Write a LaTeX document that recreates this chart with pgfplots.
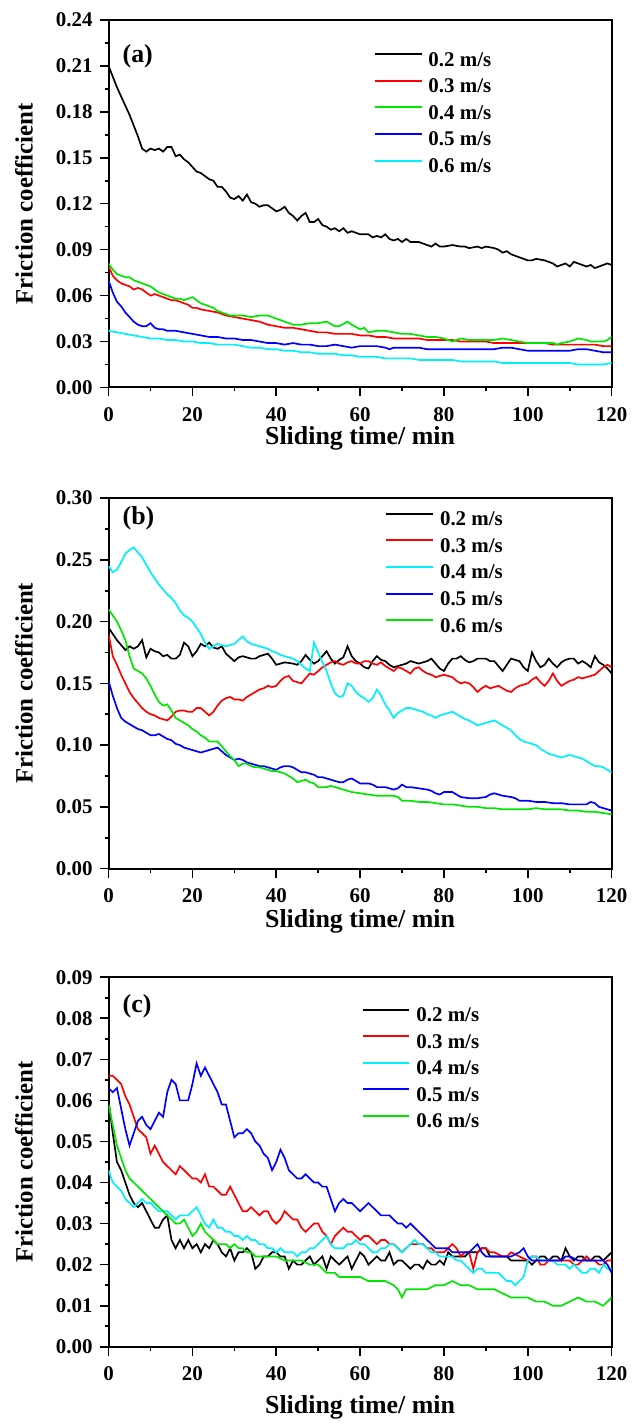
\documentclass[border=0pt]{standalone}
\usepackage{fontspec}
\setmainfont{Liberation Serif}
\usepackage{pgfplots}
\pgfplotsset{compat=1.18}

\definecolor{cgreen}{RGB}{0,230,0}
\definecolor{ccyan}{RGB}{0,240,255}

\pgfplotsset{
  legend image code/.code={\draw[#1, line width=1pt] (0pt,3.5pt) -- (23.5pt,3.5pt);},
  fric/.style={
    scale only axis,
    width=252.5pt,
    xmin=0, xmax=120,
    xtick={0,20,...,120},
    minor x tick num=1,
    minor y tick num=1,
    tick align=outside,
    tick pos=left,
    major tick length=4.5pt,
    minor tick length=2pt,
    axis line style={line width=1pt},
    every tick/.style={black, line width=0.8pt},
    scaled y ticks=false,
    /pgf/number format/assume math mode=true,
    tick label style={font=\bfseries\fontsize{10.5}{12}\selectfont},
    yticklabel style={/pgf/number format/fixed, /pgf/number format/fixed zerofill, /pgf/number format/precision=2},
    xticklabel style={yshift=-2pt},
    xlabel={Sliding time/ min},
    ylabel={Friction coefficient},
    xlabel style={font=\bfseries\fontsize{13}{15}\selectfont, at={(axis description cs:0.5,0)}, anchor=center},
    ylabel style={font=\bfseries\fontsize{12.5}{14}\selectfont, at={(axis description cs:-0.168,0.5)}, anchor=center},
    legend cell align=left,
    legend style={draw=none, fill=none, inner sep=0pt, outer sep=0pt, anchor=north west,
      font=\bfseries\fontsize{10.5}{12}\selectfont, row sep=4.35pt, column sep=3pt,
      nodes={inner sep=0pt, text height=7pt, text depth=2pt}},
    every axis plot/.append style={line width=0.85pt},
  }
}

\begin{document}
\begin{tikzpicture}
\path (0pt,0pt) rectangle (316.5pt,-713pt);

% ---------------- (a) ----------------
\begin{axis}[fric,
  at={(54.5pt,-10pt)}, anchor=north west,
  height=184.5pt,
  ymin=0, ymax=0.24, ytick={0,0.03,...,0.24},
  xlabel style={yshift=-25.5pt},
  legend style={at={(0.527,0.912)}},
]
\addplot[black] coordinates {
(0,0.210) (1,0.203) (2,0.196) (3,0.190) (4,0.184) (5,0.178) (6,0.171) (7,0.164) (8,0.156)
(9,0.154) (10,0.156) (11,0.155) (12,0.156) (13,0.154) (14,0.157) (15,0.157) (16,0.151)
(17,0.152) (18,0.149) (19,0.147) (20,0.144) (21,0.141) (22,0.140) (23,0.138) (24,0.136)
(25,0.135) (26,0.131) (27,0.131) (28,0.128) (29,0.124) (30,0.123) (31,0.125) (32,0.122)
(33,0.126) (34,0.121) (35,0.120) (36,0.118) (37,0.119) (38,0.119) (39,0.117) (40,0.115)
(41,0.116) (42,0.118) (43,0.114) (44,0.112) (45,0.109) (46,0.112) (47,0.114) (48,0.108)
(49,0.108) (50,0.110) (51,0.106) (52,0.105) (53,0.103) (54,0.104) (55,0.102) (56,0.104)
(57,0.101) (58,0.102) (59,0.101) (60,0.100) (62,0.100) (63,0.098) (64,0.099) (65,0.098)
(66,0.100) (67,0.097) (68,0.096) (69,0.097) (70,0.095) (71,0.097) (72,0.095) (74,0.095)
(75,0.094) (76,0.093) (77,0.092) (78,0.094) (79,0.092) (80,0.092) (82,0.093) (84,0.092)
(85,0.092) (86,0.091) (88,0.092) (89,0.091) (90,0.092) (92,0.091) (93,0.090) (94,0.088)
(95,0.089) (96,0.087) (97,0.086) (98,0.085) (99,0.084) (100,0.083) (101,0.083) (102,0.084)
(104,0.083) (105,0.082) (106,0.081) (107,0.079) (108,0.080) (109,0.081) (110,0.079)
(111,0.082) (112,0.081) (113,0.080) (114,0.079) (115,0.080) (116,0.078) (117,0.079)
(118,0.080) (119,0.081) (120,0.080)
};
\addplot[red] coordinates {
(0,0.079) (1,0.073) (2,0.070) (3,0.068) (4,0.067) (5,0.066) (6,0.064) (7,0.065) (8,0.064)
(9,0.062) (10,0.060) (11,0.061) (12,0.060) (13,0.059) (14,0.058) (15,0.057) (16,0.057)
(17,0.056) (18,0.055) (19,0.054) (20,0.052) (21,0.052) (22,0.051) (24,0.050) (26,0.049)
(28,0.047) (30,0.046) (32,0.045) (34,0.044) (36,0.043) (38,0.041) (40,0.040) (42,0.039)
(44,0.039) (46,0.038) (48,0.037) (50,0.036) (52,0.036) (54,0.035) (56,0.035) (58,0.035)
(60,0.034) (62,0.034) (64,0.033) (66,0.033) (68,0.032) (70,0.032) (72,0.032) (74,0.032)
(76,0.031) (78,0.031) (80,0.031) (82,0.031) (84,0.030) (86,0.030) (88,0.030) (90,0.030)
(92,0.029) (94,0.029) (96,0.029) (98,0.029) (100,0.029) (102,0.029) (104,0.029)
(106,0.028) (108,0.028) (110,0.028) (112,0.028) (114,0.028) (116,0.028) (118,0.027) (120,0.027)
};
\addplot[cgreen] coordinates {
(0,0.081) (1,0.077) (2,0.074) (3,0.073) (4,0.072) (5,0.072) (6,0.070) (7,0.069) (8,0.068)
(9,0.067) (10,0.066) (11,0.064) (12,0.062) (13,0.061) (14,0.060) (15,0.059) (16,0.058)
(17,0.058) (18,0.057) (19,0.058) (20,0.059) (21,0.057) (22,0.055) (23,0.054) (24,0.053)
(25,0.052) (26,0.050) (27,0.049) (28,0.048) (29,0.047) (30,0.047) (32,0.047) (34,0.046)
(36,0.047) (38,0.047) (40,0.045) (41,0.044) (42,0.043) (43,0.042) (44,0.041) (46,0.041)
(48,0.042) (50,0.042) (52,0.043) (54,0.040) (55,0.040) (57,0.043) (58,0.041) (60,0.038)
(61,0.039) (62,0.036) (64,0.037) (66,0.037) (68,0.036) (70,0.035) (72,0.035) (74,0.034)
(76,0.033) (78,0.033) (80,0.032) (82,0.030) (84,0.032) (86,0.031) (88,0.031) (90,0.031)
(92,0.031) (94,0.032) (96,0.031) (98,0.030) (100,0.029) (102,0.029) (104,0.029) (106,0.029)
(107,0.028) (108,0.029) (110,0.030) (112,0.032) (114,0.031) (115,0.030) (116,0.030)
(118,0.030) (119,0.031) (120,0.033)
};
\addplot[blue] coordinates {
(0,0.070) (1,0.062) (2,0.056) (3,0.053) (4,0.049) (5,0.046) (6,0.043) (7,0.041) (8,0.040)
(9,0.040) (10,0.042) (11,0.039) (12,0.038) (13,0.038) (14,0.037) (15,0.037) (16,0.037)
(18,0.036) (20,0.035) (22,0.034) (24,0.033) (26,0.033) (28,0.032) (30,0.032) (32,0.031)
(34,0.031) (36,0.030) (38,0.029) (40,0.029) (42,0.028) (44,0.029) (46,0.028) (48,0.028)
(50,0.027) (52,0.027) (54,0.028) (56,0.027) (58,0.026) (60,0.027) (62,0.027) (64,0.027)
(66,0.026) (67,0.025) (68,0.026) (70,0.026) (72,0.026) (74,0.026) (76,0.025) (78,0.025)
(80,0.025) (82,0.025) (84,0.025) (86,0.025) (88,0.025) (90,0.025) (92,0.025) (94,0.026)
(96,0.026) (98,0.025) (100,0.024) (102,0.024) (104,0.024) (106,0.024) (108,0.024)
(110,0.024) (112,0.025) (114,0.025) (116,0.024) (118,0.023) (120,0.023)
};
\addplot[ccyan] coordinates {
(0,0.037) (2,0.036) (4,0.035) (6,0.034) (8,0.033) (10,0.032) (12,0.032) (14,0.031)
(16,0.031) (18,0.030) (20,0.030) (22,0.029) (24,0.029) (26,0.028) (28,0.028) (30,0.028)
(32,0.027) (34,0.026) (36,0.026) (38,0.025) (40,0.025) (42,0.024) (44,0.024) (46,0.023)
(48,0.023) (50,0.022) (52,0.022) (54,0.022) (56,0.021) (58,0.021) (60,0.020) (62,0.020)
(64,0.020) (66,0.019) (68,0.019) (70,0.019) (72,0.019) (74,0.018) (76,0.018) (78,0.018)
(80,0.018) (82,0.018) (84,0.017) (86,0.017) (88,0.017) (90,0.017) (92,0.017) (94,0.016)
(96,0.016) (98,0.016) (100,0.016) (102,0.016) (104,0.016) (106,0.016) (108,0.016)
(110,0.016) (112,0.015) (114,0.015) (116,0.015) (118,0.015) (120,0.016)
};
\legend{0.2 m/s, 0.3 m/s, 0.4 m/s, 0.5 m/s, 0.6 m/s}
\node[anchor=west, font=\bfseries\fontsize{13}{15}\selectfont] at (rel axis cs:0.014,0.902) {(a)};
\end{axis}

% ---------------- (b) ----------------
\begin{axis}[fric,
  at={(54.5pt,-250pt)}, anchor=north west,
  height=186pt,
  ymin=0, ymax=0.30, ytick={0,0.05,...,0.30},
  xlabel style={yshift=-26.5pt},
  legend style={at={(0.550,0.963)}},
]
\addplot[black] coordinates {
(0,0.195) (1,0.190) (2,0.185) (3,0.181) (4,0.177) (5,0.180) (6,0.178) (7,0.180) (8,0.185)
(9,0.171) (10,0.178) (11,0.176) (12,0.175) (13,0.172) (14,0.173) (15,0.170) (16,0.170)
(17,0.173) (18,0.183) (19,0.180) (20,0.172) (21,0.176) (22,0.182) (23,0.180) (24,0.183)
(25,0.179) (26,0.178) (27,0.180) (28,0.174) (29,0.171) (30,0.168) (31,0.171) (32,0.172)
(34,0.170) (35,0.170) (36,0.172) (38,0.174) (39,0.170) (40,0.165) (41,0.166) (42,0.167)
(44,0.166) (45,0.165) (46,0.168) (47,0.173) (48,0.169) (49,0.166) (50,0.168) (51,0.172)
(52,0.176) (53,0.170) (54,0.166) (55,0.169) (56,0.171) (57,0.180) (58,0.172) (59,0.168)
(60,0.166) (61,0.163) (62,0.162) (63,0.168) (64,0.172) (65,0.169) (66,0.168) (67,0.165)
(68,0.163) (69,0.164) (70,0.165) (71,0.166) (72,0.168) (74,0.166) (75,0.167) (76,0.168)
(77,0.170) (78,0.166) (79,0.162) (80,0.160) (81,0.166) (82,0.170) (83,0.170) (84,0.172)
(85,0.169) (86,0.167) (87,0.168) (88,0.170) (90,0.170) (91,0.168) (92,0.168) (93,0.164)
(94,0.160) (95,0.165) (96,0.170) (97,0.169) (98,0.168) (99,0.163) (100,0.160) (101,0.175)
(102,0.168) (103,0.163) (104,0.165) (105,0.170) (106,0.166) (107,0.163) (108,0.167)
(109,0.169) (110,0.170) (111,0.170) (112,0.166) (113,0.168) (114,0.166) (115,0.163)
(116,0.172) (117,0.167) (118,0.165) (119,0.162) (120,0.158)
};
\addplot[red] coordinates {
(0,0.190) (1,0.172) (2,0.165) (3,0.157) (4,0.150) (5,0.143) (6,0.138) (7,0.134) (8,0.130)
(9,0.127) (10,0.125) (11,0.124) (12,0.122) (13,0.121) (14,0.120) (15,0.123) (16,0.127)
(17,0.128) (18,0.128) (19,0.127) (20,0.127) (21,0.130) (22,0.130) (23,0.127) (24,0.124)
(25,0.127) (26,0.132) (27,0.136) (28,0.138) (29,0.139) (30,0.137) (31,0.137) (32,0.136)
(33,0.139) (34,0.141) (35,0.143) (36,0.145) (37,0.146) (38,0.148) (39,0.147) (40,0.148)
(41,0.152) (42,0.155) (43,0.156) (44,0.152) (45,0.151) (46,0.150) (47,0.154) (48,0.158)
(49,0.157) (50,0.160) (51,0.163) (52,0.165) (53,0.167) (54,0.168) (55,0.166) (56,0.165)
(57,0.167) (58,0.168) (59,0.166) (60,0.166) (61,0.168) (62,0.168) (63,0.166) (64,0.165)
(65,0.167) (66,0.164) (67,0.162) (68,0.160) (69,0.163) (70,0.162) (71,0.160) (72,0.158)
(73,0.162) (74,0.163) (75,0.160) (76,0.158) (77,0.157) (78,0.155) (79,0.156) (80,0.157)
(81,0.156) (82,0.155) (83,0.152) (84,0.150) (85,0.151) (86,0.150) (87,0.147) (88,0.143)
(89,0.146) (90,0.148) (91,0.146) (92,0.147) (93,0.148) (94,0.146) (95,0.144) (96,0.143)
(97,0.146) (98,0.148) (99,0.149) (100,0.150) (101,0.153) (102,0.155) (103,0.151)
(104,0.148) (105,0.152) (106,0.158) (107,0.152) (108,0.148) (109,0.150) (110,0.152)
(111,0.153) (112,0.155) (113,0.154) (114,0.155) (115,0.156) (116,0.157) (117,0.160)
(118,0.163) (119,0.165) (120,0.163)
};
\addplot[ccyan] coordinates {
(0,0.245) (1,0.240) (2,0.242) (3,0.248) (4,0.255) (5,0.258) (6,0.260) (7,0.256) (8,0.252)
(9,0.246) (10,0.240) (11,0.235) (12,0.230) (13,0.226) (14,0.222) (15,0.219) (16,0.215)
(17,0.209) (18,0.205) (19,0.203) (20,0.200) (21,0.195) (22,0.190) (23,0.183) (24,0.178)
(25,0.180) (26,0.182) (27,0.181) (28,0.180) (29,0.181) (30,0.182) (31,0.185) (32,0.188)
(33,0.184) (34,0.182) (35,0.181) (36,0.180) (37,0.179) (38,0.178) (39,0.176) (40,0.175)
(41,0.173) (42,0.172) (43,0.171) (44,0.170) (45,0.168) (46,0.165) (47,0.162) (48,0.160)
(49,0.183) (50,0.175) (51,0.167) (52,0.160) (53,0.150) (54,0.142) (55,0.139) (56,0.140)
(57,0.150) (58,0.148) (59,0.143) (60,0.140) (61,0.138) (62,0.135) (63,0.138) (64,0.145)
(65,0.140) (66,0.133) (67,0.128) (68,0.122) (69,0.126) (70,0.128) (71,0.130) (72,0.130)
(73,0.129) (74,0.128) (75,0.127) (76,0.125) (77,0.124) (78,0.122) (79,0.124) (80,0.125)
(81,0.126) (82,0.127) (83,0.125) (84,0.123) (85,0.121) (86,0.120) (87,0.118) (88,0.116)
(89,0.117) (90,0.118) (91,0.119) (92,0.120) (93,0.118) (94,0.116) (95,0.114) (96,0.112)
(97,0.108) (98,0.105) (99,0.103) (100,0.102) (101,0.101) (102,0.100) (103,0.097)
(104,0.095) (105,0.093) (106,0.092) (107,0.091) (108,0.090) (109,0.091) (110,0.092)
(111,0.091) (112,0.090) (113,0.089) (114,0.087) (115,0.085) (116,0.083) (117,0.083)
(118,0.082) (119,0.080) (120,0.078)
};
\addplot[blue] coordinates {
(0,0.152) (1,0.140) (2,0.130) (3,0.122) (4,0.119) (5,0.117) (6,0.115) (7,0.113) (8,0.112)
(9,0.110) (10,0.108) (11,0.108) (12,0.109) (13,0.107) (14,0.105) (15,0.104) (16,0.101)
(17,0.100) (18,0.098) (19,0.097) (20,0.096) (21,0.095) (22,0.094) (23,0.095) (24,0.096)
(25,0.097) (26,0.098) (27,0.095) (28,0.092) (29,0.090) (30,0.088) (31,0.089) (32,0.088)
(33,0.086) (34,0.085) (35,0.084) (36,0.083) (37,0.083) (38,0.082) (39,0.081) (40,0.080)
(41,0.082) (42,0.083) (43,0.083) (44,0.082) (45,0.080) (46,0.078) (47,0.078) (48,0.077)
(49,0.076) (50,0.074) (51,0.074) (52,0.073) (53,0.072) (54,0.071) (55,0.070) (56,0.070)
(57,0.072) (58,0.073) (59,0.071) (60,0.069) (62,0.069) (63,0.068) (64,0.066) (66,0.066)
(67,0.065) (68,0.064) (69,0.065) (70,0.068) (71,0.066) (72,0.066) (74,0.065) (76,0.064)
(77,0.063) (78,0.061) (79,0.060) (80,0.062) (82,0.062) (83,0.060) (84,0.058) (86,0.057)
(88,0.057) (90,0.058) (91,0.060) (92,0.061) (93,0.060) (94,0.059) (96,0.058) (97,0.057)
(98,0.055) (100,0.055) (102,0.054) (104,0.054) (106,0.053) (108,0.053) (110,0.052)
(112,0.052) (114,0.052) (115,0.054) (116,0.053) (117,0.050) (118,0.049) (120,0.047)
};
\addplot[cgreen] coordinates {
(0,0.210) (1,0.205) (2,0.200) (3,0.193) (4,0.185) (5,0.172) (6,0.162) (7,0.160) (8,0.158)
(9,0.154) (10,0.148) (11,0.141) (12,0.135) (13,0.132) (14,0.133) (15,0.128) (16,0.122)
(17,0.120) (18,0.118) (19,0.116) (20,0.113) (21,0.111) (22,0.108) (23,0.106) (24,0.103)
(25,0.103) (26,0.103) (27,0.099) (28,0.095) (29,0.091) (30,0.088) (31,0.083) (32,0.085)
(33,0.085) (34,0.083) (35,0.082) (36,0.082) (37,0.081) (38,0.080) (39,0.079) (40,0.079)
(41,0.078) (42,0.077) (43,0.075) (44,0.073) (45,0.070) (46,0.071) (47,0.072) (48,0.070)
(49,0.069) (50,0.066) (51,0.066) (52,0.066) (53,0.067) (54,0.066) (56,0.064) (58,0.062)
(60,0.061) (62,0.060) (64,0.059) (66,0.059) (68,0.059) (69,0.058) (70,0.055) (72,0.055)
(74,0.054) (76,0.054) (78,0.053) (80,0.052) (82,0.052) (84,0.051) (86,0.050) (88,0.050)
(90,0.049) (92,0.049) (94,0.048) (96,0.048) (98,0.048) (100,0.048) (102,0.049) (104,0.048)
(106,0.048) (108,0.048) (110,0.047) (112,0.047) (114,0.046) (116,0.046) (118,0.045) (120,0.044)
};
\legend{0.2 m/s, 0.3 m/s, 0.4 m/s, 0.5 m/s, 0.6 m/s}
\node[anchor=west, font=\bfseries\fontsize{13}{15}\selectfont] at (rel axis cs:0.014,0.946) {(b)};
\end{axis}

% ---------------- (c) ----------------
\begin{axis}[fric,
  at={(54.5pt,-490.5pt)}, anchor=north west,
  height=185.5pt,
  ymin=0, ymax=0.09, ytick={0,0.01,...,0.09},
  xlabel style={yshift=-30.5pt},
  legend style={at={(0.503,0.918)}},
]
\addplot[black] coordinates {
(0,0.060) (1,0.052) (2,0.045) (3,0.043) (4,0.040) (5,0.037) (6,0.035) (7,0.034) (8,0.035)
(9,0.033) (10,0.031) (11,0.029) (12,0.029) (13,0.031) (14,0.032) (15,0.026) (16,0.024)
(17,0.026) (18,0.024) (19,0.026) (20,0.024) (21,0.025) (22,0.023) (23,0.025) (24,0.024)
(25,0.026) (26,0.025) (27,0.023) (28,0.022) (29,0.024) (30,0.021) (31,0.023) (32,0.023)
(33,0.024) (34,0.023) (35,0.019) (36,0.020) (37,0.022) (38,0.022) (39,0.023) (40,0.023)
(41,0.022) (42,0.022) (43,0.019) (44,0.021) (45,0.020) (46,0.020) (47,0.021) (48,0.022)
(49,0.020) (50,0.021) (51,0.022) (52,0.019) (53,0.022) (54,0.021) (55,0.020) (56,0.021)
(57,0.022) (58,0.019) (59,0.021) (60,0.023) (61,0.022) (62,0.020) (63,0.021) (64,0.022)
(65,0.021) (66,0.021) (67,0.023) (68,0.020) (69,0.021) (70,0.021) (71,0.020) (72,0.019)
(73,0.020) (74,0.020) (75,0.019) (76,0.021) (77,0.020) (78,0.020) (79,0.021) (80,0.020)
(81,0.023) (82,0.022) (83,0.022) (84,0.022) (85,0.022) (86,0.023) (88,0.023) (89,0.024)
(90,0.024) (91,0.022) (92,0.022) (94,0.022) (95,0.022) (96,0.021) (98,0.021) (100,0.021)
(101,0.020) (102,0.021) (103,0.022) (104,0.022) (105,0.021) (106,0.022) (107,0.022)
(108,0.021) (109,0.024) (110,0.022) (111,0.021) (112,0.022) (113,0.022) (114,0.021)
(115,0.021) (116,0.022) (117,0.022) (118,0.021) (119,0.022) (120,0.023)
};
\addplot[red] coordinates {
(0,0.066) (1,0.066) (2,0.065) (3,0.064) (4,0.061) (5,0.059) (6,0.056) (7,0.053) (8,0.052)
(9,0.051) (10,0.047) (11,0.049) (12,0.047) (13,0.045) (14,0.044) (15,0.043) (16,0.042)
(17,0.044) (18,0.043) (19,0.042) (20,0.041) (21,0.041) (22,0.040) (23,0.042) (24,0.039)
(25,0.039) (26,0.038) (27,0.037) (28,0.037) (29,0.039) (30,0.037) (31,0.035) (32,0.033)
(33,0.033) (34,0.034) (35,0.033) (36,0.032) (37,0.033) (38,0.033) (39,0.031) (40,0.030)
(41,0.031) (42,0.033) (43,0.032) (44,0.031) (45,0.031) (46,0.029) (47,0.028) (48,0.029)
(49,0.030) (50,0.030) (51,0.028) (52,0.027) (53,0.025) (54,0.027) (55,0.028) (56,0.029)
(57,0.028) (58,0.028) (59,0.027) (60,0.026) (61,0.027) (62,0.027) (63,0.026) (64,0.025)
(65,0.026) (66,0.026) (67,0.025) (68,0.025) (69,0.024) (70,0.023) (71,0.024) (72,0.025)
(73,0.025) (74,0.025) (75,0.025) (76,0.024) (77,0.024) (78,0.023) (79,0.023) (80,0.023)
(81,0.024) (82,0.025) (83,0.024) (84,0.022) (85,0.023) (86,0.023) (87,0.019) (88,0.023)
(89,0.024) (90,0.024) (91,0.023) (92,0.023) (94,0.022) (95,0.022) (96,0.023) (98,0.022)
(100,0.021) (101,0.022) (102,0.022) (103,0.020) (104,0.020) (105,0.021) (106,0.021)
(108,0.021) (110,0.021) (111,0.020) (112,0.020) (113,0.021) (114,0.022) (115,0.021)
(116,0.021) (117,0.020) (118,0.020) (119,0.021) (120,0.021)
};
\addplot[ccyan] coordinates {
(0,0.043) (1,0.040) (2,0.039) (3,0.038) (4,0.036) (5,0.035) (6,0.034) (7,0.035) (8,0.036)
(9,0.035) (10,0.035) (11,0.034) (12,0.033) (13,0.033) (14,0.033) (15,0.032) (16,0.031)
(17,0.032) (18,0.032) (19,0.032) (20,0.033) (21,0.034) (22,0.032) (23,0.030) (24,0.029)
(25,0.031) (26,0.029) (27,0.029) (28,0.028) (29,0.028) (30,0.027) (31,0.027) (32,0.026)
(33,0.027) (34,0.026) (35,0.026) (36,0.025) (37,0.025) (38,0.024) (39,0.024) (40,0.023)
(41,0.024) (42,0.023) (43,0.023) (44,0.023) (45,0.022) (46,0.023) (47,0.023) (48,0.024)
(49,0.024) (50,0.025) (51,0.026) (52,0.027) (53,0.025) (54,0.024) (55,0.024) (56,0.024)
(57,0.025) (58,0.025) (59,0.026) (60,0.025) (61,0.025) (62,0.024) (63,0.023) (64,0.023)
(65,0.024) (66,0.024) (67,0.025) (68,0.025) (69,0.024) (70,0.023) (71,0.024) (72,0.025)
(73,0.026) (74,0.025) (75,0.025) (76,0.024) (77,0.023) (78,0.023) (79,0.022) (80,0.022)
(81,0.022) (82,0.022) (83,0.021) (84,0.021) (85,0.020) (86,0.019) (87,0.018) (88,0.019)
(89,0.019) (90,0.018) (91,0.018) (92,0.018) (93,0.018) (94,0.017) (95,0.016) (96,0.016)
(97,0.015) (98,0.016) (99,0.017) (100,0.021) (101,0.022) (102,0.022) (103,0.021)
(104,0.021) (105,0.021) (106,0.021) (107,0.020) (108,0.020) (109,0.020) (110,0.019)
(111,0.020) (112,0.019) (113,0.018) (114,0.018) (115,0.019) (116,0.019) (117,0.018)
(118,0.020) (119,0.019) (120,0.019)
};
\addplot[blue] coordinates {
(0,0.063) (1,0.062) (2,0.063) (3,0.058) (4,0.053) (5,0.049) (6,0.052) (7,0.055) (8,0.056)
(9,0.054) (10,0.053) (11,0.055) (12,0.057) (13,0.056) (14,0.062) (15,0.065) (16,0.064)
(17,0.060) (18,0.060) (19,0.060) (20,0.064) (21,0.069) (22,0.066) (23,0.068) (24,0.066)
(25,0.064) (26,0.062) (27,0.059) (28,0.059) (29,0.055) (30,0.051) (31,0.052) (32,0.052)
(33,0.053) (34,0.052) (35,0.050) (36,0.049) (37,0.047) (38,0.046) (39,0.043) (40,0.045)
(41,0.048) (42,0.046) (43,0.043) (44,0.042) (45,0.041) (46,0.041) (47,0.042) (48,0.041)
(49,0.040) (50,0.040) (51,0.039) (52,0.039) (53,0.036) (54,0.033) (55,0.035) (56,0.036)
(57,0.035) (58,0.035) (59,0.034) (60,0.033) (61,0.034) (62,0.035) (63,0.034) (64,0.033)
(65,0.032) (66,0.032) (67,0.032) (68,0.031) (69,0.030) (70,0.030) (71,0.029) (72,0.030)
(73,0.029) (74,0.028) (75,0.027) (76,0.026) (77,0.025) (78,0.024) (79,0.024) (80,0.024)
(81,0.024) (82,0.023) (83,0.023) (84,0.023) (85,0.023) (86,0.023) (87,0.024) (88,0.025)
(89,0.023) (90,0.022) (91,0.022) (92,0.022) (94,0.022) (96,0.022) (98,0.023) (99,0.024)
(100,0.022) (101,0.021) (102,0.021) (104,0.021) (106,0.021) (108,0.021) (109,0.022)
(110,0.022) (112,0.021) (114,0.021) (116,0.021) (118,0.021) (119,0.020) (120,0.018)
};
\addplot[cgreen] coordinates {
(0,0.059) (1,0.054) (2,0.049) (3,0.046) (4,0.043) (5,0.041) (6,0.040) (7,0.039) (8,0.038)
(9,0.037) (10,0.036) (11,0.035) (12,0.034) (13,0.033) (14,0.032) (15,0.031) (16,0.030)
(17,0.030) (18,0.031) (19,0.029) (20,0.027) (21,0.028) (22,0.030) (23,0.028) (24,0.027)
(25,0.026) (26,0.025) (27,0.025) (28,0.025) (29,0.024) (30,0.025) (31,0.024) (32,0.024)
(33,0.023) (34,0.023) (35,0.022) (36,0.022) (38,0.022) (40,0.022) (42,0.021) (44,0.021)
(46,0.021) (48,0.020) (50,0.020) (51,0.019) (52,0.018) (53,0.018) (54,0.018) (55,0.017)
(56,0.017) (58,0.017) (60,0.017) (62,0.016) (64,0.016) (66,0.016) (68,0.015) (69,0.014)
(70,0.012) (71,0.014) (72,0.014) (74,0.014) (76,0.014) (78,0.015) (80,0.015) (82,0.016)
(84,0.015) (86,0.015) (88,0.014) (90,0.014) (92,0.014) (94,0.013) (96,0.012) (98,0.012)
(100,0.012) (102,0.011) (104,0.011) (106,0.010) (108,0.010) (110,0.011) (112,0.012)
(114,0.011) (116,0.011) (118,0.010) (120,0.012)
};
\legend{0.2 m/s, 0.3 m/s, 0.4 m/s, 0.5 m/s, 0.6 m/s}
\node[anchor=west, font=\bfseries\fontsize{13}{15}\selectfont] at (rel axis cs:0.014,0.922) {(c)};
\end{axis}
\end{tikzpicture}
\end{document}
